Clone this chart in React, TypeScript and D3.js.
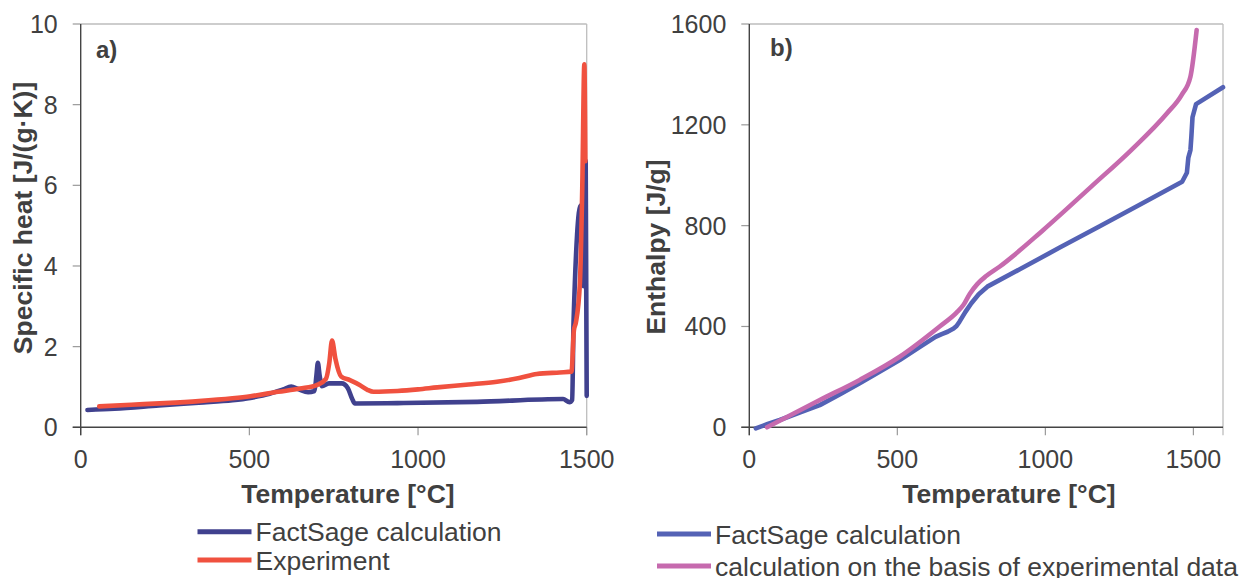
import React from "react";
import * as d3 from "d3";

// Panel a: specific heat [J/(g·K)] vs temperature [°C]
const factsageCp: [number, number][] = [
  [20, 0.43], [100, 0.46], [232, 0.54], [350, 0.61], [450, 0.67], [503, 0.73],
  [560, 0.83], [600, 0.94], [624, 1.01], [645, 0.95], [674, 0.87], [693, 0.9],
  [699, 1.3], [703, 1.6], [708, 1.3], [715, 1.02], [736, 1.09], [774, 1.09],
  [792, 0.97], [805, 0.7], [813, 0.59], [939, 0.6], [1175, 0.63], [1430, 0.7],
  [1449, 0.62], [1457, 0.68], [1461, 2.6], [1482, 5.5], [1490, 3.5], [1497, 6.6],
  [1500, 0.78],
];
const experimentCp: [number, number][] = [
  [55, 0.52], [150, 0.56], [250, 0.6], [350, 0.65], [450, 0.72], [503, 0.77],
  [585, 0.88], [650, 0.96], [703, 1.06], [727, 1.2], [737, 1.6], [745, 2.15],
  [755, 1.7], [772, 1.26], [798, 1.17], [827, 1.05], [850, 0.93], [868, 0.88],
  [939, 0.9], [1000, 0.94], [1057, 0.99], [1150, 1.06], [1234, 1.13], [1300, 1.22],
  [1352, 1.32], [1420, 1.36], [1455, 1.38], [1462, 2.4], [1468, 2.6], [1480, 3.6],
  [1487, 6.0], [1493, 9.0], [1496, 6.6],
];

// Panel b: enthalpy [J/g] vs temperature [°C]
const factsageH: [number, number][] = [
  [22, -4], [60, 12], [103, 29], [170, 58], [238, 88], [305, 130], [373, 175],
  [440, 220], [508, 267], [570, 314], [629, 359], [650, 370], [670, 379], [690, 392],
  [700, 402], [710, 419], [730, 458], [750, 492], [775, 528], [804, 558], [912, 626],
  [1047, 712], [1182, 797], [1317, 882], [1462, 974], [1478, 1010], [1483, 1070],
  [1490, 1100], [1493, 1150], [1497, 1230], [1509, 1282], [1600, 1349],
];
const experimentH: [number, number][] = [
  [60, 0], [150, 55], [238, 108], [373, 188], [508, 280], [643, 400], [700, 455],
  [723, 485], [745, 530], [770, 568], [800, 600], [845, 637], [993, 783],
  [1155, 955], [1290, 1100], [1411, 1246], [1460, 1318], [1490, 1391], [1511, 1576],
];

const xTicksA = [0, 500, 1000, 1500];
const yTicksA = [0, 2, 4, 6, 8, 10];
const xTicksB = [0, 500, 1000, 1500];
const yTicksB = [0, 400, 800, 1200, 1600];

const legendA = ["FactSage calculation", "Experiment"];
const legendB = ["FactSage calculation", "calculation on the basis of experimental data"];

const FONT = "'Liberation Sans', Arial, sans-serif";
const TXT = "#404040";

type Series = { data: [number, number][]; color: string; smooth: boolean };

type PanelProps = {
  left: number; right: number; top: number; bottom: number;
  xDomain: [number, number]; yDomain: [number, number];
  xTicks: number[]; yTicks: number[];
  series: Series[];
  label: string; labelX: number; labelY: number;
  yTitle: string; yTitleX: number; yTitleY: number;
  xTitleX: number;
  legend: string[]; legendX: number; legendY: number[]; legendColors: string[];
};

function Panel(p: PanelProps) {
  const x = d3.scaleLinear().domain(p.xDomain).range([p.left, p.right]);
  const y = d3.scaleLinear().domain(p.yDomain).range([p.bottom, p.top]);
  const mk = (smooth: boolean) =>
    d3.line<[number, number]>().x(d => x(d[0])).y(d => y(d[1]))
      .curve(smooth ? d3.curveMonotoneX : d3.curveLinear);
  return (
    <g fontFamily={FONT}>
      {/* top & right borders */}
      <line x1={p.left} x2={p.right} y1={p.top} y2={p.top} stroke="#bdbdbd" strokeWidth={1.3} />
      <line x1={p.right} x2={p.right} y1={p.top} y2={p.bottom + 8} stroke="#bdbdbd" strokeWidth={1.3} />
      {/* y ticks */}
      {p.yTicks.map(t => (
        <g key={"y" + t}>
          <line x1={p.left - 8} x2={p.left} y1={y(t)} y2={y(t)} stroke="#999" strokeWidth={1.2} />
          <text x={p.left - 23} y={y(t)} dy="0.36em" textAnchor="end" fontSize={25} fill={TXT}>{t}</text>
        </g>
      ))}
      {/* x ticks */}
      {p.xTicks.map(t => (
        <g key={"x" + t}>
          <line x1={x(t)} x2={x(t)} y1={p.bottom} y2={p.bottom + 8} stroke="#999" strokeWidth={1.2} />
          <text x={x(t)} y={p.bottom + 41} textAnchor="middle" fontSize={25} fill={TXT}>{t}</text>
        </g>
      ))}
      {/* axes */}
      <line x1={p.left} x2={p.left} y1={p.top} y2={p.bottom + 8} stroke="#444" strokeWidth={1.4} />
      <line x1={p.left - 8} x2={p.right} y1={p.bottom} y2={p.bottom} stroke="#444" strokeWidth={1.4} />
      {/* series */}
      {p.series.map((s, i) => (
        <path key={i} d={mk(s.smooth)(s.data) || ""} fill="none" stroke={s.color} strokeWidth={4.6}
          strokeLinejoin="round" strokeLinecap="round" />
      ))}
      {/* panel label */}
      <text x={p.labelX} y={p.labelY} fontSize={24} fontWeight="bold" fill={TXT}>{p.label}</text>
      {/* titles */}
      <text x={p.xTitleX} y={503} textAnchor="middle" fontSize={26.5} fontWeight="bold" fill={TXT}>Temperature [°C]</text>
      <text transform={`translate(${p.yTitleX},${p.yTitleY}) rotate(-90)`} textAnchor="middle"
        fontSize={26.5} fontWeight="bold" fill={TXT}>{p.yTitle}</text>
      {/* legend */}
      {p.legend.map((name, i) => (
        <g key={name}>
          <line x1={p.legendX} x2={p.legendX + 54} y1={p.legendY[i]} y2={p.legendY[i]}
            stroke={p.legendColors[i]} strokeWidth={5} />
          <text x={p.legendX + 58} y={p.legendY[i]} dy="0.36em" fontSize={26.5} fill={TXT}>{name}</text>
        </g>
      ))}
    </g>
  );
}

export default function App() {
  return (
    <svg width={1243} height={578} style={{ position: "absolute", left: 0, top: 0, background: "#fff" }}>
      <Panel left={80.7} right={586.7} top={24} bottom={427.3}
        xDomain={[0, 1500]} yDomain={[0, 10]} xTicks={xTicksA} yTicks={yTicksA}
        series={[
          { data: factsageCp, color: "#40418e", smooth: true },
          { data: experimentCp, color: "#f0513f", smooth: true },
        ]}
        label="a)" labelX={96} labelY={58}
        yTitle="Specific heat [J/(g·K)]" yTitleX={32} yTitleY={218}
        xTitleX={348}
        legend={legendA} legendX={197.5} legendY={[531.7, 560]} legendColors={["#40418e", "#f0513f"]} />
      <Panel left={749.3} right={1223} top={24} bottom={427.3}
        xDomain={[0, 1600]} yDomain={[0, 1600]} xTicks={xTicksB} yTicks={yTicksB}
        series={[
          { data: factsageH, color: "#5462b5", smooth: false },
          { data: experimentH, color: "#c66aae", smooth: true },
        ]}
        label="b)" labelX={770} labelY={56}
        yTitle="Enthalpy [J/g]" yTitleX={665} yTitleY={247}
        xTitleX={1009}
        legend={legendB} legendX={657} legendY={[534, 566]} legendColors={["#5462b5", "#c66aae"]} />
    </svg>
  );
}
